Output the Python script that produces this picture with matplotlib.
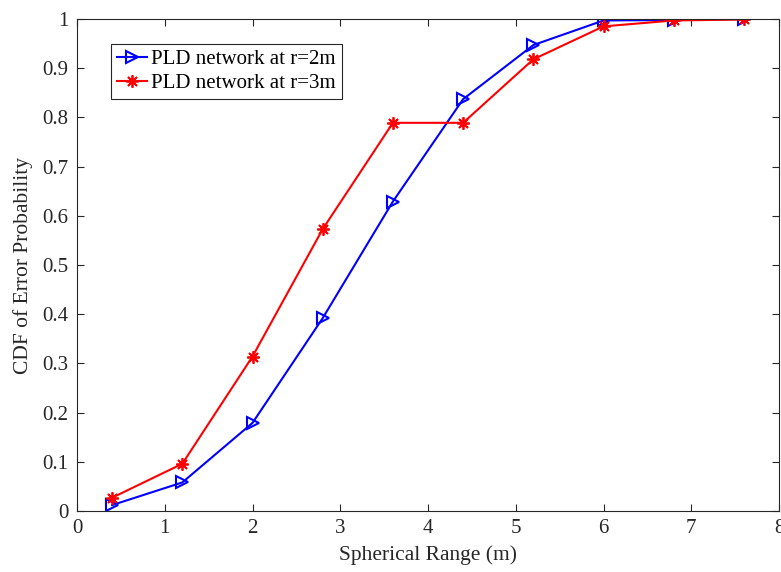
import matplotlib.pyplot as plt
import numpy as np

plt.rcParams['font.family'] = ['Liberation Serif', 'DejaVu Serif']
plt.rcParams['mathtext.fontset'] = 'stix'

# Data
spherical_range = [0.4, 1.2, 2.0, 2.8, 3.6, 4.4, 5.2, 6.0, 6.8, 7.6]
cdf_r2 = [0.012, 0.058, 0.179, 0.392, 0.629, 0.837, 0.947, 0.997, 0.998, 1.0]
cdf_r3 = [0.027, 0.096, 0.314, 0.573, 0.789, 0.789, 0.918, 0.985, 0.997, 0.999]

axis_col = '#262626'

fig = plt.figure(figsize=(7.81, 5.72), dpi=100)
ax = fig.add_axes([77 / 781, 1 - 511 / 572, (779 - 77) / 781, (511 - 19) / 572])

ax.plot(spherical_range, cdf_r2, color='blue', lw=1.5, marker='>', ms=9,
        mfc='none', mew=1.5, label='PLD network at r=2m')
ax.plot(spherical_range, cdf_r3, color='red', lw=1.5, marker=(8, 2, 0), ms=9,
        mew=1.3, label='PLD network at r=3m')

ax.set_xlim(0, 8)
ax.set_ylim(0, 1)
ax.set_xticks(np.arange(0, 9, 1))
ax.set_yticks(np.arange(0, 1.01, 0.1))
ax.set_yticklabels(['0', '0.1', '0.2', '0.3', '0.4', '0.5', '0.6', '0.7', '0.8', '0.9', '1'])
ax.tick_params(direction='in', top=True, right=True, labelsize=15, colors=axis_col,
               length=5, width=0.8, pad=6)
for s in ax.spines.values():
    s.set_color(axis_col)
    s.set_linewidth(0.8)

ax.set_xlabel('Spherical Range (m)', fontsize=15.5, color=axis_col, labelpad=5)
ax.set_ylabel('CDF of Error Probability', fontsize=15.5, color=axis_col, labelpad=7)

leg = ax.legend(loc='upper left', bbox_to_anchor=(0.048, 0.95), fontsize=15,
                frameon=True, fancybox=False, edgecolor=axis_col, framealpha=1,
                handlelength=1.45, handletextpad=0.2, borderpad=0.3,
                labelspacing=0.2, borderaxespad=0)
leg.get_frame().set_linewidth(0.8)

fig.savefig('out.png', dpi=100)
